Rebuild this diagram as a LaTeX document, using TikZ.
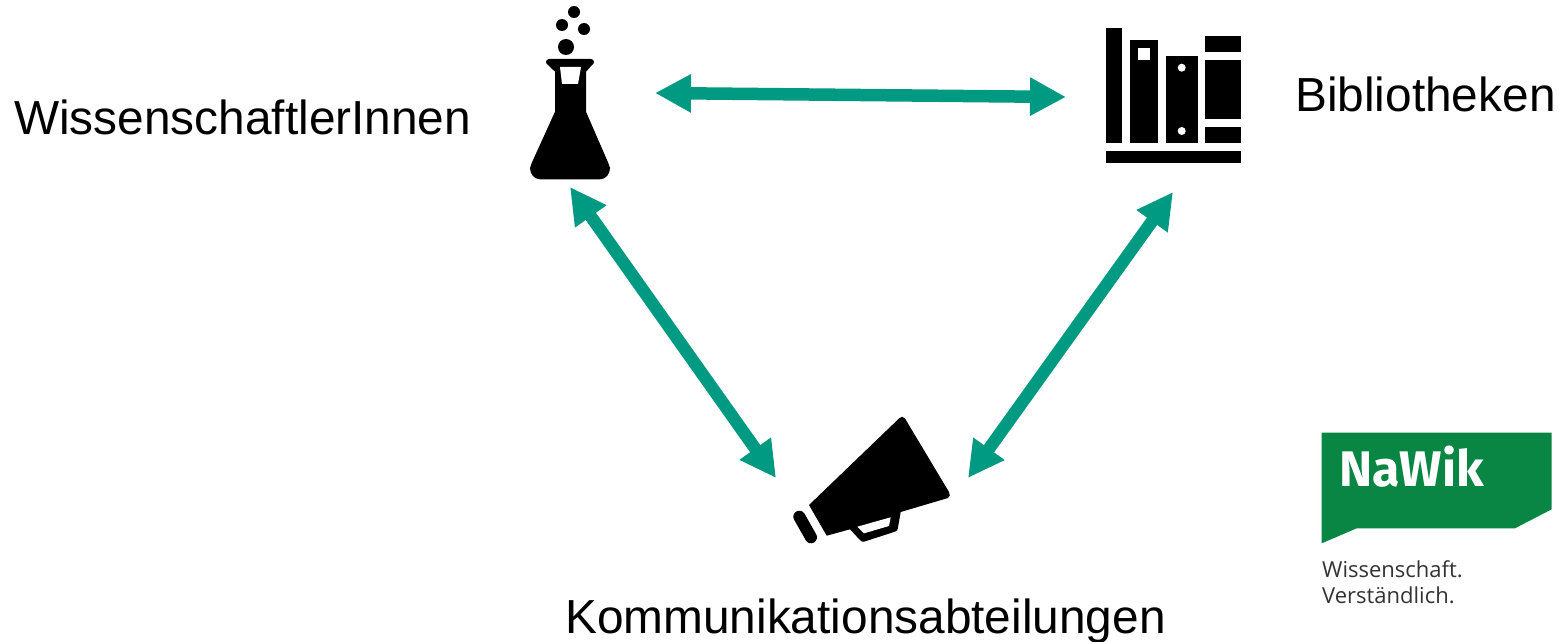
\documentclass[tikz,border=0pt]{standalone}
\usepackage{fontspec}
\setmainfont{Liberation Sans}
\newfontfamily\logofont{Open Sans}
\newfontfamily\logobold{Fira Sans}
\usetikzlibrary{arrows.meta}
\definecolor{teal}{HTML}{009A82}
\definecolor{nawik}{HTML}{0A8644}
\tikzset{
  link/.style={draw=teal,line width=12.5pt,{Triangle[length=36pt,width=36pt]}-{Triangle[length=36pt,width=36pt]}},
  lab/.style={inner sep=0pt,font=\fontsize{47.8}{47.8}\selectfont,anchor=base west}
}
\begin{document}
\begin{tikzpicture}[x=1pt,y=-1pt]
\useasboundingbox (0,0) rectangle (1559,642);
% flask
\fill (549,59) -- (591,59) to[out=0,in=90] (594,62) to[out=-90,in=45] (592,65) -- (586,71.7) -- (586,111.7) -- (608.3,163) to[out=-65,in=90] (610,168) to[out=-90,in=0] (600,179.3) -- (540,179.3) to[out=180,in=-90] (530,168) to[out=90,in=-115] (531.7,163) -- (555,111.7) -- (555,71.7) -- (548,65) to[out=135,in=-90] (546,62) to[out=90,in=180] (549,59) -- cycle;
\fill[white] (560,67) -- (581,67) -- (578,84) -- (562,84) -- cycle;
\fill (574,12) circle (6);
\fill (562,25) circle (6);
\fill (584,29) circle (6);
\fill (566,47) circle (8);
% books
\fill (1106,28) rectangle (1122.3,142.7);
\fill (1130.3,40) rectangle (1158,142.7);
\fill[white] (1138,48) rectangle (1150,60);
\fill (1165.7,56) rectangle (1197.7,142.7);
\fill[white] (1181.7,67.7) circle (4);
\fill[white] (1181.7,131) circle (4);
\fill (1205.3,36) rectangle (1241,51.7);
\fill (1205.3,60) rectangle (1241,119.3);
\fill (1205.3,127.3) rectangle (1241,142.7);
\fill (1106,151) rectangle (1241,162.7);
% megaphone
\fill (809,505) -- (899,418.5) to[out=45,in=180] (902,416.7) to[out=0,in=120] (905,418.5) -- (949,492) to[out=-60,in=16] (948,498) -- (900.7,512) -- (897.7,529) to[out=-100,in=18] (894,532) -- (864,541.7) to[out=-162,in=-45] (860,540) -- (850,529.3) -- (826.7,535.7) -- cycle;
\fill[white] (857.3,526.7) -- (890.7,517.3) -- (889,526) -- (864,533.3) -- cycle;
\draw[line width=12pt,line cap=round] (799.3,516.7) -- (811,537.3);
% arrows
\coordinate (flaskE) at (655,93);
\coordinate (booksW) at (1066,97);
\coordinate (flaskS) at (570,187);
\coordinate (megaNW) at (776,478);
\coordinate (booksS) at (1173,192);
\coordinate (megaNE) at (968,478);
\draw[link] (flaskE) -- (booksW);
\draw[link] (flaskS) -- (megaNW);
\draw[link] (booksS) -- (megaNE);
% labels
\node[lab] (w) at (14,134) {WissenschaftlerInnen};
\node[lab] (b) at (1295,111.5) {Bibliotheken};
\node[lab] (k) at (565,633) {Kommunikationsabteilungen};
% logo
\fill[nawik] (1321.7,432.7) -- (1551.7,432.7) -- (1551.7,509.3) -- (1515,528.3) -- (1356.7,528.3) -- (1321.7,543.3) -- cycle;
\node[inner sep=0pt,anchor=base west,text=white,font=\logobold\bfseries\fontsize{50}{50}\selectfont] (n) at (1339,486) {NaWik};
\node[inner sep=0pt,anchor=base west,text=black!80,font=\logofont\fontsize{22}{22}\selectfont] (t1) at (1322,577) {Wissenschaft.};
\node[inner sep=0pt,anchor=base west,text=black!80,font=\logofont\fontsize{22}{22}\selectfont] (t2) at (1322,603) {Verständlich.};
\end{tikzpicture}
\end{document}
